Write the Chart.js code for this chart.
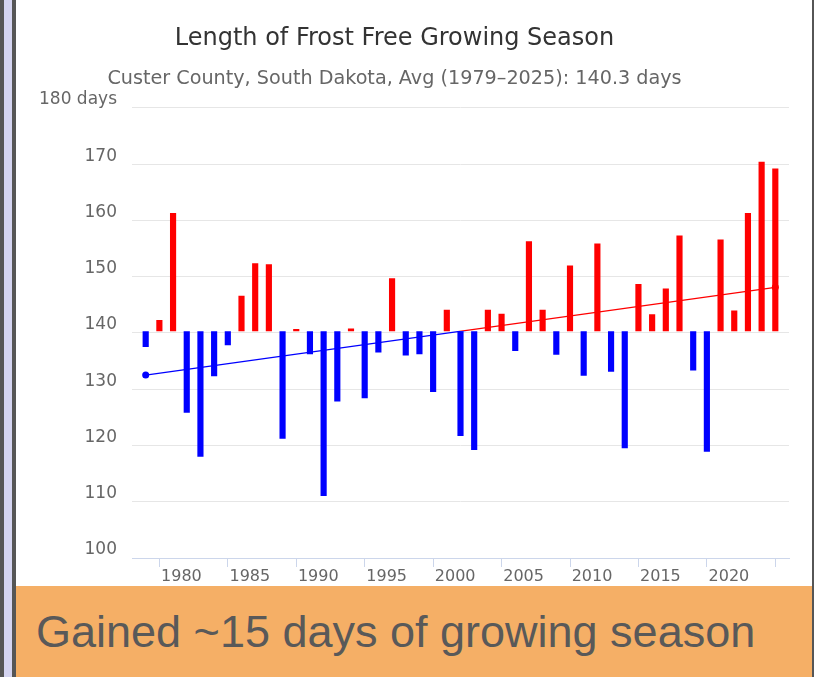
<!DOCTYPE html>
<html>
<head>
<meta charset="utf-8">
<title>Length of Frost Free Growing Season</title>
<script src="https://cdn.jsdelivr.net/npm/chart.js@4.4.1/dist/chart.umd.min.js"></script>
<style>
  html, body { margin: 0; padding: 0; background: #fff; }
  #page { position: relative; width: 814px; height: 677px; overflow: hidden; background: #fff; }
  #chart-box { position: absolute; left: 0; top: 0; width: 812px; height: 586px; }
  .edge { position: absolute; top: 0; height: 677px; }
  #banner {
    position: absolute; left: 16px; top: 586px; width: 796px; height: 91px;
    background: #f5af66;
  }
  #banner span {
    position: absolute; left: 20px; top: 23px;
    font-family: "Liberation Sans", Arial, sans-serif; font-size: 45px; line-height: 1;
    color: #595959; white-space: nowrap;
  }
</style>
</head>
<body>
<div id="page">
  <div id="chart-box"><canvas id="frost-chart"></canvas></div>
  <div class="edge" style="left:0;width:4px;background:#565656"></div>
  <div class="edge" style="left:4px;width:8px;background:#d4d4f0"></div>
  <div class="edge" style="left:12px;width:4px;background:#565656"></div>
  <div class="edge" style="left:812px;width:2px;background:#565656"></div>
  <div id="banner"><span>Gained ~15 days of growing season</span></div>
</div>
<script>
// frost free season length per year (days)
const years = [
  1979, 1980, 1981, 1982, 1983, 1984, 1985, 1986, 1987, 1988,
  1989, 1990, 1991, 1992, 1993, 1994, 1995, 1996, 1997, 1998,
  1999, 2000, 2001, 2002, 2003, 2004, 2005, 2006, 2007, 2008,
  2009, 2010, 2011, 2012, 2013, 2014, 2015, 2016, 2017, 2018,
  2019, 2020, 2021, 2022, 2023, 2024, 2025
];
const seasonDays = [
  137.5, 142.3, 161.3, 125.8, 118.0, 132.3, 137.8, 146.6, 152.4, 152.2,
  121.2, 140.7, 136.2, 111.0, 127.8, 140.8, 128.4, 136.5, 149.7, 136.0,
  136.2, 129.5, 144.1, 121.7, 119.2, 144.1, 143.4, 136.8, 156.3, 144.1,
  136.1, 152.0, 132.4, 155.9, 133.1, 119.5, 148.7, 143.3, 147.9, 157.3,
  133.3, 118.9, 156.6, 144.0, 161.3, 170.4, 169.2
];
const avgDays = 140.3;

// linear trend, start and end
const trendYears = [1979, 2025];
const trendDays = [132.5, 148.1];

const xTicks = [1980, 1985, 1990, 1995, 2000, 2005, 2010, 2015, 2020, 2025];
const yTicks = [100, 110, 120, 130, 140, 150, 160, 170, 180];

const red = '#ff0000';
const blue = '#0000ff';

Chart.defaults.font.family = '"DejaVu Sans", Verdana, sans-serif';
Chart.defaults.animation = false;

// red above the average, blue below
function trendColor(context) {
  const chart = context.chart;
  const area = chart.chartArea;
  if (!area) return blue;
  const yb = chart.scales.y.getPixelForValue(avgDays);
  const f = Math.min(Math.max((yb - area.top) / (area.bottom - area.top), 0), 1);
  const g = chart.ctx.createLinearGradient(0, area.top, 0, area.bottom);
  g.addColorStop(0, red);
  g.addColorStop(f, red);
  g.addColorStop(f, blue);
  g.addColorStop(1, blue);
  return g;
}

const data = {
  datasets: [{
    type: 'line',
    label: 'Trend',
    data: trendYears.map((yr, i) => ({x: yr, y: trendDays[i]})),
    borderColor: trendColor,
    borderWidth: 1.2,
    pointRadius: 3.5,
    pointBorderWidth: 0,
    pointBackgroundColor: trendDays.map(v => v >= avgDays ? red : blue),
    pointBorderColor: trendDays.map(v => v >= avgDays ? red : blue),
    order: 1
  }, {
    type: 'bar',
    label: 'Growing season',
    data: years.map((yr, i) => ({x: yr, y: [avgDays, seasonDays[i]]})),
    backgroundColor: seasonDays.map(v => v >= avgDays ? red : blue),
    borderWidth: 0,
    barPercentage: 0.45,
    categoryPercentage: 1,
    order: 2
  }]
};

const config = {
  type: 'bar',
  data: data,
  options: {
    responsive: true,
    maintainAspectRatio: false,
    layout: {
      padding: { left: 0, right: 23, top: 0, bottom: 0 }
    },
    plugins: {
      legend: { display: false },
      tooltip: { enabled: false },
      title: {
        display: true,
        text: 'Length of Frost Free Growing Season',
        color: '#333333',
        font: { size: 24, weight: 'normal' },
        padding: { top: 24, bottom: 4 }
      },
      subtitle: {
        display: true,
        text: 'Custer County, South Dakota, Avg (1979\u20132025): 140.3 days',
        color: '#666666',
        font: { size: 19.2, weight: 'normal' },
        padding: { top: 11, bottom: 17 }
      }
    },
    scales: {
      x: {
        type: 'linear',
        min: 1978,
        max: 2026,
        offset: false,
        afterBuildTicks: axis => {
          axis.ticks = xTicks.map(v => ({value: v}));
        },
        afterFit: scale => { scale.height = 28; },
        ticks: {
          autoSkip: false,
          maxRotation: 0,
          labelOffset: 22,
          padding: 0,
          color: '#666666',
          font: { size: 16 },
          callback: v => v <= 2020 ? String(v) : ''
        },
        grid: { offset: false, drawOnChartArea: false, color: '#ccd6eb', tickLength: 9 },
        border: { color: '#ccd6eb' }
      },
      y: {
        min: yTicks[0],
        max: yTicks[yTicks.length - 1],
        afterBuildTicks: axis => {
          axis.ticks = yTicks.map(v => ({value: v}));
        },
        afterFit: scale => { scale.width = 132; },
        ticks: {
          labelOffset: -8,
          padding: 15,
          color: '#666666',
          font: { size: 17 },
          callback: v => v === 180 ? '180 days' : String(v)
        },
        grid: { color: '#e6e6e6', drawTicks: false },
        border: { display: false }
      }
    }
  }
};

const frostChart = new Chart(document.getElementById('frost-chart'), config);
</script>
</body>
</html>
